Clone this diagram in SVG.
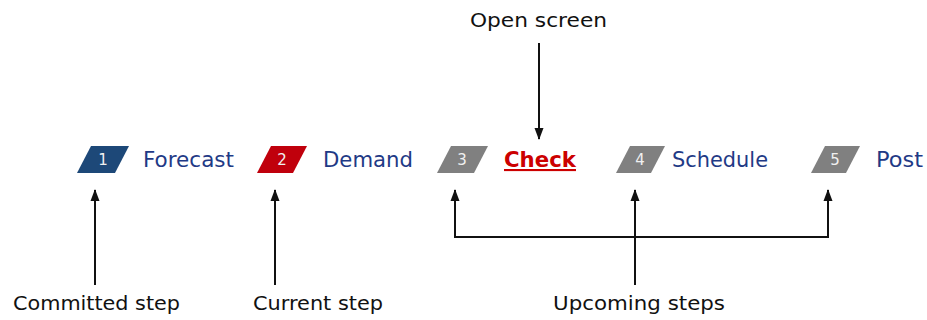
<svg xmlns="http://www.w3.org/2000/svg" width="927" height="320" viewBox="0 0 927 320">
<defs>
<style>
.badge-num{font-family:"DejaVu Sans",Verdana,sans-serif;font-size:15px;fill:#f0f0f0;text-anchor:middle}
.step{font-family:"DejaVu Sans",Verdana,sans-serif;font-size:21px;fill:#1f3a86}
.cur{font-family:"DejaVu Sans",Verdana,sans-serif;font-size:21px;font-weight:bold;fill:#cc0000;text-decoration:underline}
.note{font-family:"DejaVu Sans",Verdana,sans-serif;font-size:19px;fill:#111111}
.conn{stroke:#111111;stroke-width:2;fill:none}
</style>
<marker id="ah" viewBox="0 0 12 10" refX="11" refY="5" markerWidth="12" markerHeight="10" markerUnits="userSpaceOnUse" orient="auto-start-reverse">
<path d="M12,5 L0,0.5 L0,9.5 Z" fill="#111111"/>
</marker>
</defs>
<rect width="927" height="320" fill="#ffffff"/>

<g id="step1">
<polygon points="91,146 129,146 115,173 77,173" fill="#1d4878"/>
<text class="badge-num" x="103" y="165">1</text>
<text class="step" x="143" y="167" textLength="91" lengthAdjust="spacingAndGlyphs">Forecast</text>
</g>
<g id="step2">
<polygon points="271,146 307,146 293,173 257,173" fill="#c0000c"/>
<text class="badge-num" x="282" y="165">2</text>
<text class="step" x="323" y="167" textLength="90" lengthAdjust="spacingAndGlyphs">Demand</text>
</g>
<g id="step3">
<polygon points="451,146 488,146 474,173 437,173" fill="#808080"/>
<text class="badge-num" x="462" y="165">3</text>
<text class="cur" x="504" y="167" textLength="72" lengthAdjust="spacingAndGlyphs">Check</text>
</g>
<g id="step4">
<polygon points="630,146 665,146 651,173 616,173" fill="#808080"/>
<text class="badge-num" x="640" y="165">4</text>
<text class="step" x="672" y="167" textLength="96" lengthAdjust="spacingAndGlyphs">Schedule</text>
</g>
<g id="step5">
<polygon points="825,146 860,146 846,173 811,173" fill="#808080"/>
<text class="badge-num" x="835" y="165">5</text>
<text class="step" x="876" y="167" textLength="47" lengthAdjust="spacingAndGlyphs">Post</text>
</g>

<g id="label-open">
<text class="note" x="470" y="27" textLength="137" lengthAdjust="spacingAndGlyphs">Open screen</text>
</g>
<g id="label-committed">
<text class="note" x="13" y="310" textLength="167" lengthAdjust="spacingAndGlyphs">Committed step</text>
</g>
<g id="label-current">
<text class="note" x="253" y="310" textLength="130" lengthAdjust="spacingAndGlyphs">Current step</text>
</g>
<g id="label-upcoming">
<text class="note" x="553" y="310" textLength="172" lengthAdjust="spacingAndGlyphs">Upcoming steps</text>
</g>

<g id="connectors">
<path class="conn" d="M539,43 L539,139" marker-end="url(#ah)"/>
<path class="conn" d="M95,285 L95,190" marker-end="url(#ah)"/>
<path class="conn" d="M275,285 L275,190" marker-end="url(#ah)"/>
<path class="conn" d="M635,285 L635,190" marker-end="url(#ah)"/>
<path class="conn" d="M455,190 L455,237 L828,237 L828,190" marker-start="url(#ah)" marker-end="url(#ah)"/>
</g>
</svg>
